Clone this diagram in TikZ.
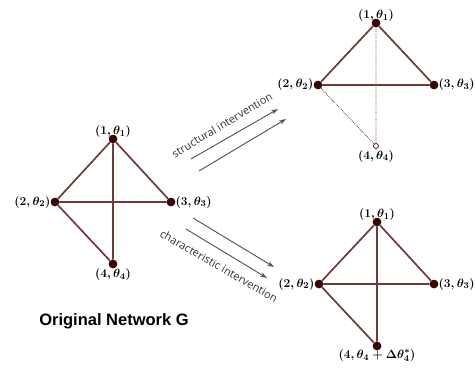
\documentclass[tikz,border=0pt]{standalone}
\usepackage{fontspec}
\setsansfont{Liberation Sans}
\newfontfamily\labfont{Open Sans}
\usetikzlibrary{arrows.meta}
\definecolor{edgec}{HTML}{6E3B3B}
\definecolor{nodec}{HTML}{3A0505}
\definecolor{arrc}{HTML}{505050}
\tikzset{
  vert/.style={circle,fill=nodec,inner sep=0pt,minimum size=8.5pt},
  hollow/.style={circle,draw=nodec,fill=white,inner sep=0pt,minimum size=5pt,line width=0.7pt},
  edg/.style={draw=edgec,line width=1.7pt},
  dedg/.style={draw=edgec,line width=0.8pt,densely dotted},
  lab/.style={font=\fontsize{13}{15}\selectfont\boldmath,inner sep=1pt},
  intarr/.style={draw=arrc,line width=0.9pt,-{Stealth[length=7pt,width=4.5pt]}},
  inttext/.style={font=\labfont\fontsize{11}{13}\selectfont,text=black!80}
}
\begin{document}
\begin{tikzpicture}[x=1pt,y=-1pt]
\useasboundingbox (0,0) rectangle (475,372);
% left graph
\node[vert] (a1) at (113,139) {};
\node[vert] (a2) at (55,202) {};
\node[vert] (a3) at (171,202) {};
\node[vert] (a4) at (113,264) {};
\draw[edg] (a1) -- (a2) (a1) -- (a3) (a1) -- (a4) (a2) -- (a3) (a2) -- (a4);
\node[vert] at (a1) {}; \node[vert] at (a2) {}; \node[vert] at (a3) {}; \node[vert] at (a4) {};
\node[lab,above=0pt] (la1) at (a1) {$(1,\theta_1)$};
\node[lab,left=-1pt] (la2) at (a2.west) {$(2,\theta_2)$};
\node[lab,right=-1pt] (la3) at (a3.east) {$(3,\theta_3)$};
\node[lab,below=3pt] (la4) at (a4) {$(4,\theta_4)$};
\node[font=\sffamily\bfseries\fontsize{16.5}{18}\selectfont] (cap) at (114,321) {Original Network G};
% top right graph
\node[vert] (b1) at (376,23) {};
\node[vert] (b2) at (318,85) {};
\node[vert] (b3) at (434,85) {};
\node[hollow] (b4) at (376,146) {};
\draw[edg] (b1) -- (b2) (b1) -- (b3) (b2) -- (b3);
\draw[dedg] (b1) -- (b4) (b2) -- (b4);
\node[vert] at (b1) {}; \node[vert] at (b2) {}; \node[vert] at (b3) {};
\node[lab,above=0pt] (lb1) at (b1) {$(1,\theta_1)$};
\node[lab,left=-1pt] (lb2) at (b2.west) {$(2,\theta_2)$};
\node[lab,right=-1pt] (lb3) at (b3.east) {$(3,\theta_3)$};
\node[lab,below=3pt] (lb4) at (b4) {$(4,\theta_4)$};
% bottom right graph
\node[vert] (c1) at (377,222) {};
\node[vert] (c2) at (319,284) {};
\node[vert] (c3) at (434,284) {};
\node[vert] (c4) at (377,346) {};
\draw[edg] (c1) -- (c2) (c1) -- (c3) (c1) -- (c4) (c2) -- (c3) (c2) -- (c4);
\node[vert] at (c1) {}; \node[vert] at (c2) {}; \node[vert] at (c3) {}; \node[vert] at (c4) {};
\node[lab,above=0pt] (lc1) at (c1) {$(1,\theta_1)$};
\node[lab,left=-1pt] (lc2) at (c2.west) {$(2,\theta_2)$};
\node[lab,right=-1pt] (lc3) at (c3.east) {$(3,\theta_3)$};
\node[lab,below=2pt] (lc4) at (c4) {$(4,\theta_4+\Delta\theta_4^{*})$};
% arrows
\coordinate (s1a) at (191,159); \coordinate (s1b) at (278,109);
\coordinate (s2a) at (199,171); \coordinate (s2b) at (286,119);
\draw[intarr] (s1a) -- (s1b);
\draw[intarr] (s2a) -- (s2b);
\node[inttext,rotate=31] (st) at (222,125) {structural intervention};
\coordinate (k1a) at (193,218); \coordinate (k1b) at (274,267);
\coordinate (k2a) at (186,229); \coordinate (k2b) at (267,278);
\draw[intarr] (k1a) -- (k1b);
\draw[intarr] (k2a) -- (k2b);
\node[inttext,rotate=-30] (ct) at (219,266) {characteristic intervention};
\end{tikzpicture}
\end{document}
